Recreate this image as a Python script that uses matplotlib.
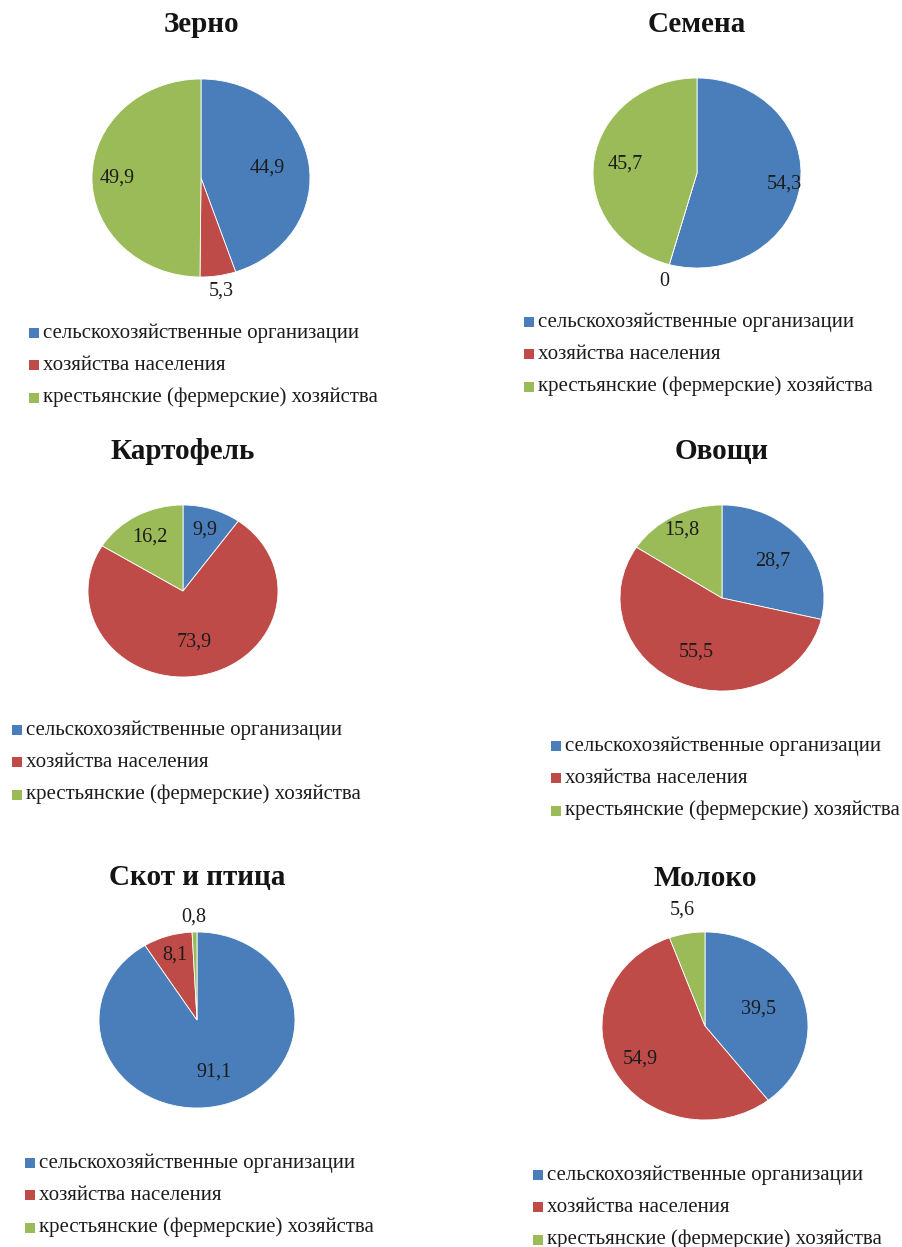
import numpy as np
import matplotlib
matplotlib.use("Agg")
import matplotlib.pyplot as plt
from matplotlib.patches import Rectangle

plt.rcParams['font.family'] = ['Liberation Serif', 'DejaVu Serif']

categories = ["сельскохозяйственные организации",
              "хозяйства населения",
              "крестьянские (фермерские) хозяйства"]
colors = ["#4A7EBB", "#BE4B48", "#9BBB59"]

titles = ["Зерно", "Семена", "Картофель", "Овощи", "Скот и птица", "Молоко"]
zerno = [44.9, 5.3, 49.9]
semena = [54.3, 0.0, 45.7]
kartofel = [9.9, 73.9, 16.2]
ovoshchi = [28.7, 55.5, 15.8]
skot = [91.1, 8.1, 0.8]
moloko = [39.5, 54.9, 5.6]
series = [zerno, semena, kartofel, ovoshchi, skot, moloko]

# layout (pixels): pie center x, y, radius x, radius y, title y, legend x, legend first row y
W, H = 903, 1247
layout = [
    dict(cx=201, cy=178, rx=109, ry=99, ty=25, lx=29, ly=333, lr=[0.62, 1.16, 0.77]),
    dict(cx=697, cy=173, rx=104, ry=95, ty=25, lx=524, ly=322, lr=[0.85, 1.18, 0.70]),
    dict(cx=183, cy=591, rx=95, ry=86, ty=452, lx=12, ly=730, lr=[0.74, 0.60, 0.72]),
    dict(cx=722, cy=598, rx=102, ry=93, ty=452, lx=551, ly=746, lr=[0.64, 0.63, 0.83]),
    dict(cx=197, cy=1020, rx=98, ry=88, ty=878, lx=25, ly=1163, lr=[0.62, 0.77, 1.17]),
    dict(cx=705, cy=1026, rx=103, ry=94, ty=878, lx=533, ly=1175, lr=[0.55, 0.72, 1.25]),
]

fig = plt.figure(figsize=(W / 100, H / 100), dpi=100)
fig.patch.set_facecolor("white")

def fmt(v):
    s = f"{v:.1f}".replace(".", ",")
    if v == 0:
        s = "0"
    return s

for title, vals, L in zip(titles, series, layout):
    ax = fig.add_axes([(L['cx'] - L['rx']) / W, 1 - (L['cy'] + L['ry']) / H,
                       2 * L['rx'] / W, 2 * L['ry'] / H])
    wedges, _ = ax.pie(vals, colors=colors, startangle=90, counterclock=False,
                       radius=1, wedgeprops=dict(edgecolor="white", linewidth=0.6))
    ax.set_aspect('auto')
    ax.set_xlim(-1, 1)
    ax.set_ylim(-1, 1)
    ax.axis('off')
    total = sum(vals)
    start = 90.0
    for v, r in zip(vals, L['lr']):
        span = 360.0 * v / total
        mid = np.deg2rad(start - span / 2)
        start -= span
        ax.text(r * np.cos(mid), r * np.sin(mid), fmt(v), ha='center', va='center',
                fontsize=14.5, color="#1c1c1c", clip_on=False)
    fig.text(L['cx'] / W, 1 - L['ty'] / H, title, ha='center', va='center',
             fontsize=21, fontweight='bold', color="#141414")
    for i, (cat, col) in enumerate(zip(categories, colors)):
        y = L['ly'] + i * 32.3
        fig.patches.append(Rectangle((L['lx'] / W, 1 - (y + 5) / H), 10 / W, 10 / H,
                                     transform=fig.transFigure, facecolor=col,
                                     edgecolor='none'))
        fig.text((L['lx'] + 14) / W, 1 - y / H, cat, ha='left', va='center',
                 fontsize=15, color="#1c1c1c")

fig.savefig("out.png", dpi=100, facecolor="white")
